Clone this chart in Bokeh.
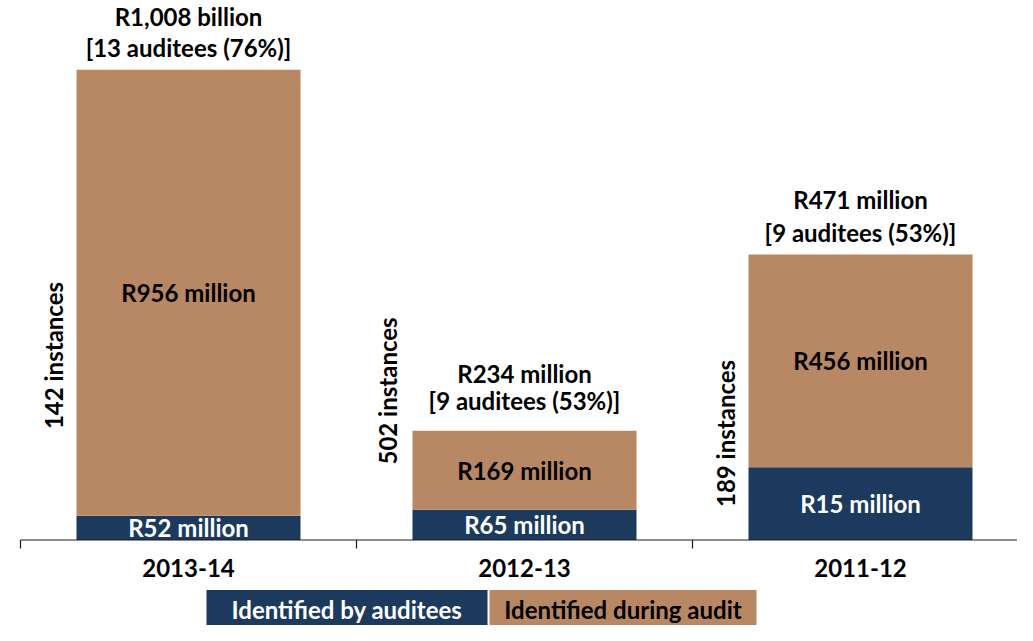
import math
from bokeh.plotting import figure
from bokeh.models import Range1d
from bokeh.core.properties import value
from bokeh.embed import file_html
from bokeh.resources import INLINE

# ---------------- data ----------------
categories = ["2013-14", "2012-13", "2011-12"]
# segment heights as drawn in the chart (R million)
by_auditees = [52, 65, 156]
during_audit = [956, 169, 456]
by_auditees_labels = ["R52 million", "R65 million", "R15 million"]
during_audit_labels = ["R956 million", "R169 million", "R456 million"]
total_labels = ["R1,008 billion", "R234 million", "R471 million"]
auditee_labels = ["[13 auditees (76%)]", "[9 auditees (53%)]", "[9 auditees (53%)]"]
instance_labels = ["142 instances", "502  instances", "189  instances"]
legend_labels = ["Identified by auditees", "Identified during audit"]

# ---------------- layout / style ----------------
NAVY = "#1B3A5E"
BROWN = "#B88763"
FONT = value("Lato")
FS = "24px"

W, H = 1017, 625
CAT_PX = 336.0       # width of one category in px
X0_PX = 20.0         # canvas x of first category boundary
AXIS_PX = 539.5      # canvas y of the zero line
PPU = 470.2 / 1008   # px per unit (R million)
FIX = 10.0           # baseline correction of the svg text renderer (px)

total_line1_gap_px = [43, 47, 45]
total_line2_gap_px = [12, 20, 12]
instance_center_px = [184.5, 152, 109.5]
instance_gap_px = [13, 15, 13]


def dy(px):
    return px / PPU


def dx(px):
    return px / CAT_PX


def sx(screen_x):
    return (screen_x - X0_PX) / CAT_PX


x_range = Range1d(-X0_PX / CAT_PX, (W - X0_PX) / CAT_PX)
y_range = Range1d(-(H - AXIS_PX) / PPU, AXIS_PX / PPU)

p = figure(width=W, height=H, x_range=x_range, y_range=y_range,
           x_axis_type=None, y_axis_type=None, output_backend="svg",
           toolbar_location=None, min_border=0)
p.outline_line_color = None
p.grid.visible = False
p.background_fill_color = "white"
p.border_fill_color = "white"

xs = [i + 0.5 for i in range(len(categories))]
BAR_W = 2.0 / 3.0
totals = [a + b for a, b in zip(by_auditees, during_audit)]

p.vbar(x=xs, width=BAR_W, bottom=0, top=by_auditees, fill_color=NAVY, line_color=None)
p.vbar(x=xs, width=BAR_W, bottom=by_auditees, top=totals, fill_color=BROWN, line_color=None)

common = dict(text_font=FONT, text_font_style="bold", text_font_size=FS,
              text_align="center", text_baseline="alphabetic")

# segment labels (baseline 10px below segment middle)
p.text(x=xs, y=[b / 2 - dy(10 - FIX) for b in by_auditees], text=by_auditees_labels,
       text_color="white", **common)
p.text(x=xs, y=[b + d / 2 - dy(10 - FIX) for b, d in zip(by_auditees, during_audit)],
       text=during_audit_labels, text_color="black", **common)

# totals above bars
p.text(x=xs, y=[t + dy(g + FIX) for t, g in zip(totals, total_line1_gap_px)],
       text=total_labels, text_color="black", **common)
p.text(x=xs, y=[t + dy(g + FIX) for t, g in zip(totals, total_line2_gap_px)],
       text=auditee_labels, text_color="black", **common)

# vertical instance labels
p.text(x=[x - BAR_W / 2 - dx(g + FIX) for x, g in zip(xs, instance_gap_px)],
       y=[dy(c) for c in instance_center_px], text=instance_labels,
       angle=math.pi / 2, text_color="black", **common)

# axis line and boundary ticks
p.segment(x0=[0], y0=[0], x1=[len(categories)], y1=[0], line_color="#1a1a1a", line_width=1.2)
p.segment(x0=list(range(len(categories) + 1)), y0=0,
          x1=list(range(len(categories) + 1)), y1=-dy(8.5),
          line_color="#1a1a1a", line_width=1.2)

# category labels
p.text(x=xs, y=[-dy(38 - FIX)] * len(xs), text=categories, text_color="black", **common)

# legend boxes
leg_left = [sx(206), sx(489)]
leg_right = [sx(487), sx(756)]
p.quad(left=leg_left, right=leg_right, top=-dy(50), bottom=-dy(120),
       fill_color=[NAVY, BROWN], line_color=None)
p.text(x=[(l + r) / 2 for l, r in zip(leg_left, leg_right)], y=-dy(79.5 - FIX),
       text=legend_labels, text_color=["white", "black"], **common)

open("out.html", "w").write(file_html(p, INLINE))
